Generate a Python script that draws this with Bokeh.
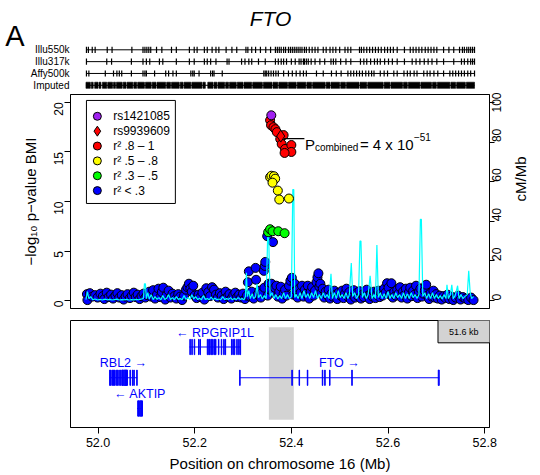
import math
from bokeh.plotting import figure
from bokeh.layouts import column
from bokeh.models import Range1d, LinearAxis, FixedTicker, NumeralTickFormatter
from bokeh.core.properties import value
from bokeh.embed import file_html
from bokeh.resources import INLINE

FONT = "Liberation Sans"

# ---------------- association results (-log10 p) ----------------
blue_pos = [
    51.977, 51.978, 51.983, 51.988, 51.994, 51.999, 52.005, 52.010, 52.013, 52.018,
    52.022, 52.027, 52.031, 52.036, 52.040, 52.044, 52.049, 52.053, 52.057, 52.061,
    52.066, 52.070, 52.074, 52.078, 52.082, 52.086, 52.090, 52.094, 52.098, 52.102,
    52.106, 52.110, 52.114, 52.118, 52.122, 52.125, 52.129, 52.132, 52.135, 52.139,
    52.142, 52.146, 52.150, 52.154, 52.158, 52.162, 52.166, 52.170, 52.174, 52.178,
    52.182, 52.185, 52.188, 52.191, 52.194, 52.197, 52.200, 52.204, 52.208, 52.212,
    52.216, 52.220, 52.224, 52.228, 52.232, 52.236, 52.240, 52.244, 52.248, 52.252,
    52.256, 52.260, 52.264, 52.268, 52.272, 52.276, 52.280, 52.284, 52.288, 52.292,
    52.296, 52.300, 52.304, 52.308, 52.310, 52.312, 52.315, 52.318, 52.322, 52.326,
    52.327, 52.330, 52.334, 52.337, 52.340, 52.343, 52.344, 52.345, 52.346, 52.350,
    52.351, 52.353, 52.356, 52.359, 52.362, 52.363, 52.366, 52.369, 52.372, 52.375,
    52.378, 52.381, 52.384, 52.387, 52.390, 52.395,
    52.398, 52.401, 52.404, 52.407, 52.410, 52.413, 52.416, 52.419, 52.422, 52.425,
    52.428, 52.431, 52.434, 52.437, 52.440, 52.443, 52.446, 52.449, 52.452, 52.454,
    52.456, 52.458, 52.460, 52.462, 52.465, 52.468, 52.471, 52.474, 52.477, 52.480,
    52.483, 52.486, 52.489, 52.492, 52.495, 52.498,
    52.502, 52.505, 52.508, 52.511, 52.514, 52.517, 52.520, 52.523, 52.526, 52.529,
    52.532, 52.535, 52.538, 52.541, 52.544, 52.547, 52.550, 52.553, 52.556, 52.559,
    52.562, 52.565, 52.568, 52.571, 52.574, 52.577, 52.580, 52.583, 52.586, 52.589,
    52.592, 52.595, 52.598, 52.601, 52.604, 52.607, 52.610, 52.613, 52.616,
    52.619, 52.622, 52.625, 52.628, 52.631, 52.634, 52.637, 52.640, 52.643, 52.646,
    52.649, 52.652, 52.655, 52.658, 52.661, 52.664, 52.667, 52.670, 52.673, 52.676,
    52.679, 52.682, 52.685, 52.688, 52.691, 52.694, 52.697, 52.700, 52.703, 52.707,
    52.711, 52.715, 52.719, 52.723, 52.727, 52.731, 52.735, 52.740, 52.745, 52.750,
    52.755, 52.760, 52.766, 52.772, 52.777,
]
blue_logp = [
    0.65, 0.05, 0.75, 0.4, 0.55, 0.3, 0.7, 0.45, 0.15, 0.8,
    0.35, 0.6, 0.2, 0.5, 0.75, 0.3, 0.55, 0.1, 0.4, 0.65,
    0.25, 0.5, 0.8, 0.35, 0.6, 0.15, 0.45, 0.7, 0.3, 0.55,
    0.9, 0.4, 1.05, 0.2, 0.6, 1.2, 0.35, 0.85, 1.3, 0.1,
    0.55, 1.0, 0.3, 0.7, 0.45, 0.2, 0.65, 0.4, 0.05, 0.5,
    1.1, 1.35, 1.7, 1.2, 0.9, 1.5, 0.5, 0.25, 0.6, 0.35,
    0.8, 0.1, 1.25, 0.85, 0.45, 1.35, 1.1, 0.6, 0.3, 0.75,
    0.5, 0.15, 0.9, 0.4, 0.65, 0.2, 0.55, 0.8, 0.35, 0.6,
    0.3, 0.7, 0.15, 0.5, 1.85, 2.95, 0.4, 0.9, 0.2, 3.3,
    2.1, 0.6, 1.0, 0.3, 0.8, 3.0, 1.3, 3.5, 3.9, 6.5,
    0.5, 1.7, 1.1, 1.7, 5.9, 0.8, 1.3, 1.5, 0.4, 0.9,
    1.4, 0.2, 0.7, 1.1, 0.5, 1.5,
    2.0, 2.3, 0.6, 1.7, 1.0, 0.3, 1.2, 0.8, 1.5, 0.4,
    1.1, 0.7, 1.5, 0.2, 0.9, 1.35, 0.5, 1.0, 1.85, 2.35,
    2.75, 1.4, 1.7, 0.8, 1.2, 0.3, 0.9, 0.55, 1.1, 0.2,
    0.7, 0.4, 1.0, 0.6, 0.15, 0.8,
    0.5, 1.0, 0.25, 0.7, 1.2, 0.4, 0.85, 0.1, 0.6, 1.05,
    0.3, 0.75, 0.45, 0.95, 0.2, 0.6, 0.35, 0.8, 1.1, 0.5,
    0.15, 0.7, 0.4, 0.9, 0.25, 0.6, 1.0, 0.35, 0.75, 0.5,
    1.2, 0.8, 1.75, 1.3, 0.6, 1.75, 0.3, 0.9, 0.5,
    1.1, 0.7, 1.35, 0.3, 0.9, 0.55, 1.2, 0.2, 0.8, 1.3,
    0.45, 1.0, 0.6, 1.5, 0.25, 0.9, 1.2, 0.4, 0.7, 1.0,
    1.6, 0.5, 0.15, 0.75, 0.4, 1.0, 0.3, 0.65, 0.2, 0.5,
    0.1, 0.45, 0.25, 0.6, 0.15, 0.4, 0.05, 0.3, 0.5, 0.1,
    0.35, 0.2, 0.05, 0.3, 0.05,
]
green_pos = [52.352, 52.356, 52.361, 52.373, 52.386]
green_logp = [6.9, 7.2, 7.0, 7.0, 6.8]
yellow_pos = [52.356, 52.3587, 52.364, 52.3665, 52.361, 52.372, 52.375, 52.395]
yellow_logp = [12.45, 12.6, 12.55, 12.3, 11.9, 11.1, 10.2, 10.3]
red_pos = [52.356, 52.358, 52.363, 52.367, 52.370, 52.377, 52.384, 52.380, 52.387, 52.400, 52.400, 52.386]
red_logp = [18.2, 17.7, 17.5, 17.3, 17.0, 16.3, 16.7, 15.8, 15.3, 15.7, 15.0, 14.9]
lead_pos = [52.3585]      # rs1421085
lead_logp = [18.7]
diamond_pos = [52.378]    # rs9939609
diamond_logp = [16.6]

# ---------------- recombination rate (cM/Mb) ----------------
rec_pos = [
    51.975, 51.978, 51.981, 51.985, 51.989, 51.994, 51.999, 52.004, 52.009, 52.014,
    52.019, 52.024, 52.029, 52.034, 52.039, 52.044, 52.049, 52.054, 52.059, 52.064,
    52.069, 52.074, 52.079, 52.084, 52.089, 52.094, 52.096, 52.098, 52.100, 52.103,
    52.106, 52.110, 52.114, 52.118, 52.122, 52.126, 52.130, 52.134, 52.138, 52.142,
    52.146, 52.150, 52.154, 52.158, 52.162, 52.166, 52.170, 52.174, 52.178, 52.182,
    52.186, 52.190, 52.194, 52.198, 52.202, 52.206, 52.210, 52.214, 52.218, 52.222,
    52.226, 52.230, 52.234, 52.238, 52.242, 52.246, 52.250, 52.254, 52.258, 52.262,
    52.266, 52.270, 52.274, 52.278, 52.282, 52.286, 52.290, 52.294, 52.298, 52.302,
    52.305, 52.307, 52.309, 52.312, 52.315, 52.319, 52.322, 52.326, 52.329, 52.332,
    52.336, 52.340, 52.344, 52.348, 52.351, 52.353, 52.356, 52.360, 52.364, 52.368,
    52.372, 52.376, 52.380, 52.384, 52.388, 52.392, 52.396, 52.400, 52.403, 52.405,
    52.407, 52.410, 52.414, 52.418, 52.422, 52.426, 52.430, 52.434, 52.438, 52.442,
    52.446, 52.450, 52.454, 52.458, 52.462, 52.466, 52.470, 52.474, 52.478, 52.482,
    52.485, 52.489, 52.493, 52.497, 52.501, 52.505, 52.509, 52.513, 52.517, 52.520,
    52.524, 52.527, 52.531, 52.535, 52.539, 52.542, 52.544, 52.547, 52.551, 52.555,
    52.559, 52.563, 52.567, 52.571, 52.574, 52.577, 52.580, 52.584, 52.588, 52.592,
    52.596, 52.600, 52.604, 52.608, 52.612, 52.616, 52.620, 52.624, 52.628, 52.632,
    52.636, 52.640, 52.644, 52.648, 52.652, 52.656, 52.660, 52.664, 52.667, 52.669,
    52.672, 52.676, 52.680, 52.684, 52.688, 52.692, 52.696, 52.700, 52.704, 52.708,
    52.712, 52.716, 52.720, 52.722, 52.725, 52.729, 52.732, 52.735, 52.739, 52.744,
    52.747, 52.751, 52.755, 52.759, 52.764, 52.767, 52.770, 52.773, 52.777,
]
rec_rate = [
    0.5, 4.5, 1.0, 2.0, 0.5, 0.8, 0.3, 0.6, 0.3, 0.7,
    0.4, 0.6, 0.3, 0.5, 0.7, 0.3, 0.5, 0.4, 0.6, 0.3,
    0.5, 0.4, 0.6, 0.4, 0.7, 1.2, 8.5, 8.5, 1.0, 4.0,
    0.8, 3.0, 0.5, 2.0, 0.6, 1.5, 0.4, 2.5, 0.5, 1.2,
    3.0, 0.5, 1.5, 0.4, 2.0, 0.6, 1.0, 0.4, 2.5, 0.6,
    1.5, 0.5, 3.0, 0.8, 2.0, 0.5, 1.2, 0.4, 2.5, 0.6,
    1.0, 0.4, 1.8, 0.5, 1.2, 0.4, 0.8, 0.4, 2.0, 0.5,
    1.0, 0.6, 1.5, 0.4, 1.0, 0.5, 1.5, 0.6, 1.0, 0.4,
    2.0, 14.0, 2.0, 5.0, 1.0, 3.5, 1.0, 2.0, 8.5, 1.5,
    3.0, 0.8, 2.5, 1.0, 33.0, 33.0, 2.0, 4.0, 1.0, 3.0,
    0.8, 2.5, 1.0, 4.0, 1.0, 3.0, 1.0, 2.0, 56.0, 56.0,
    1.5, 3.0, 1.0, 4.0, 1.0, 5.0, 1.5, 3.5, 1.0, 4.0,
    1.5, 5.0, 1.0, 3.0, 1.0, 4.0, 1.5, 3.0, 1.0, 13.5,
    1.0, 4.0, 1.0, 5.0, 1.5, 3.0, 1.0, 4.0, 1.0, 3.0,
    19.0, 2.0, 4.0, 1.0, 3.0, 30.0, 30.0, 1.5, 4.0, 1.0,
    3.0, 12.5, 1.0, 3.0, 1.0, 28.0, 1.5, 4.0, 1.0, 3.5,
    1.0, 4.5, 1.0, 3.0, 1.0, 4.0, 1.5, 3.0, 1.0, 4.0,
    1.0, 3.5, 1.0, 4.0, 1.5, 3.0, 1.0, 3.0, 41.0, 41.0,
    2.0, 4.0, 1.0, 3.5, 1.0, 4.0, 1.0, 3.0, 1.0, 2.5,
    0.8, 3.0, 1.0, 8.0, 1.0, 3.0, 8.0, 1.0, 2.5, 7.5,
    1.0, 3.0, 1.0, 2.0, 3.0, 15.0, 4.0, 1.0, 2.0,
]

# ---------------- SNP coverage tracks ----------------
track_names = ["Illu550k", "Illu317k", "Affy500k", "Imputed"]
illu550k = [
    51.976, 51.980, 51.988, 51.994, 52.019, 52.029, 52.070, 52.093, 52.097, 52.101,
    52.105, 52.109, 52.121, 52.132, 52.152, 52.162, 52.189, 52.199, 52.205, 52.220,
    52.226, 52.236, 52.244, 52.250, 52.265, 52.277, 52.287, 52.306, 52.310, 52.318,
    52.326, 52.336, 52.347, 52.357, 52.367, 52.371, 52.375, 52.379, 52.384, 52.388,
    52.394, 52.398, 52.402, 52.406, 52.410, 52.414, 52.418, 52.422, 52.427, 52.431,
    52.437, 52.443, 52.449, 52.455, 52.466, 52.472, 52.480, 52.486, 52.492, 52.500,
    52.511, 52.517, 52.523, 52.541, 52.545, 52.550, 52.556, 52.562, 52.568, 52.574,
    52.580, 52.586, 52.593, 52.599, 52.605, 52.611, 52.619, 52.634, 52.646, 52.652,
    52.658, 52.664, 52.670, 52.677, 52.683, 52.689, 52.695, 52.701, 52.715, 52.726,
    52.736, 52.748, 52.754, 52.758, 52.763, 52.767, 52.771, 52.775, 52.779,
]
illu317k = [
    51.976, 52.018, 52.028, 52.069, 52.093, 52.100, 52.107, 52.127, 52.134, 52.162,
    52.189, 52.199, 52.220, 52.226, 52.233, 52.244, 52.267, 52.271, 52.297, 52.304,
    52.312, 52.318, 52.332, 52.346, 52.367, 52.373, 52.379, 52.384, 52.390, 52.400,
    52.408, 52.416, 52.420, 52.425, 52.427, 52.431, 52.435, 52.441, 52.449, 52.459,
    52.469, 52.482, 52.487, 52.492, 52.502, 52.513, 52.523, 52.543, 52.550, 52.556,
    52.564, 52.572, 52.578, 52.584, 52.593, 52.601, 52.609, 52.619, 52.634, 52.650,
    52.658, 52.666, 52.675, 52.683, 52.691, 52.701, 52.715, 52.736, 52.752, 52.758,
    52.765, 52.771, 52.775, 52.779,
]
affy500k = [
    51.976, 51.981, 52.015, 52.032, 52.039, 52.044, 52.049, 52.069, 52.093, 52.097,
    52.100, 52.117, 52.140, 52.146, 52.155, 52.162, 52.192, 52.196, 52.199, 52.209,
    52.233, 52.237, 52.240, 52.257, 52.343, 52.346, 52.349, 52.353, 52.358, 52.363,
    52.368, 52.373, 52.384, 52.394, 52.402, 52.410, 52.418, 52.425, 52.431, 52.452,
    52.466, 52.483, 52.493, 52.503, 52.517, 52.523, 52.529, 52.535, 52.541, 52.547,
    52.554, 52.560, 52.566, 52.571, 52.584, 52.592, 52.599, 52.612, 52.619, 52.633,
    52.640, 52.646, 52.654, 52.660, 52.674, 52.681, 52.687, 52.695, 52.703, 52.715,
    52.728, 52.734, 52.740, 52.746, 52.752, 52.758, 52.765, 52.771, 52.779,
]
imputed_start = [
    51.975, 51.986, 51.993, 52.002, 52.009, 52.020, 52.032, 52.038, 52.052, 52.060,
    52.074, 52.082, 52.098, 52.112, 52.122, 52.142, 52.152, 52.170, 52.178, 52.194,
    52.217, 52.227, 52.240, 52.248, 52.264, 52.272, 52.288, 52.302, 52.320, 52.342,
    52.362, 52.374, 52.394, 52.412, 52.432, 52.444, 52.472, 52.482, 52.502, 52.514,
    52.542, 52.558, 52.592, 52.606, 52.632, 52.642, 52.668, 52.692, 52.702, 52.730,
    52.742, 52.762,
]
imputed_end = [
    51.984, 51.990, 52.000, 52.006, 52.018, 52.030, 52.036, 52.050, 52.058, 52.072,
    52.080, 52.096, 52.110, 52.120, 52.140, 52.150, 52.168, 52.176, 52.192, 52.215,
    52.222, 52.238, 52.246, 52.262, 52.270, 52.286, 52.300, 52.318, 52.340, 52.360,
    52.372, 52.392, 52.410, 52.430, 52.442, 52.470, 52.480, 52.500, 52.512, 52.540,
    52.556, 52.590, 52.604, 52.630, 52.640, 52.666, 52.690, 52.700, 52.728, 52.740,
    52.760, 52.779,
]

# ---------------- genes ----------------
gene_names = ["RPGRIP1L", "RBL2", "AKTIP", "FTO"]
gene_start = [52.189, 52.024, 52.081, 52.293]
gene_end = [52.295, 52.081, 52.093, 52.706]
gene_strand = ["-", "+", "-", "+"]
gene_row = [1, 2, 3, 2]
gene_exons = [
    [(52.190, 52.191), (52.194, 52.195), (52.199, 52.200), (52.208, 52.209), (52.211, 52.212),
     (52.226, 52.227), (52.229, 52.230), (52.231, 52.232), (52.234, 52.235), (52.237, 52.238),
     (52.240, 52.241), (52.243, 52.244), (52.249, 52.250), (52.255, 52.256), (52.260, 52.261),
     (52.263, 52.264), (52.276, 52.277), (52.279, 52.280), (52.282, 52.283), (52.287, 52.288),
     (52.291, 52.292), (52.294, 52.295)],
    [(52.024, 52.025), (52.026, 52.027), (52.029, 52.030), (52.032, 52.033), (52.034, 52.035),
     (52.037, 52.038), (52.040, 52.041), (52.043, 52.044), (52.046, 52.047), (52.049, 52.053),
     (52.054, 52.061), (52.066, 52.067), (52.071, 52.072), (52.074, 52.075), (52.080, 52.081)],
    [(52.082, 52.086), (52.087, 52.092)],
    [(52.293, 52.294), (52.401, 52.402), (52.416, 52.417), (52.433, 52.434), (52.464, 52.465),
     (52.469, 52.470), (52.479, 52.480), (52.525, 52.526), (52.704, 52.706)],
]
highlight_start, highlight_end = 52.3535, 52.4051
window_label = "51.6 kb"

legend_labels = ["rs1421085", "rs9939609", "r\u00b2  .8 \u2013 1", "r\u00b2  .5 \u2013 .8",
                 "r\u00b2  .3 \u2013 .5", "r\u00b2  < .3"]
legend_colors = ["#A020F0", "#FF0000", "#FF0000", "#FFFF00", "#00FF00", "#0000FF"]
legend_markers = ["circle", "diamond", "circle", "circle", "circle", "circle"]

# ---------------- layout ----------------
X0, X1 = 51.943, 52.810
W = 540
LEFT, RIGHT = 70, 47
MBPX = (X1 - X0) / (W - LEFT - RIGHT)
xr = Range1d(X0, X1)


def bare_axis(ax, size, standoff):
    ax.axis_line_color = None
    ax.major_tick_line_color = None
    ax.minor_tick_line_color = None
    ax.major_tick_out = 0
    ax.major_tick_in = 0
    ax.minor_tick_out = 0
    ax.minor_tick_in = 0
    ax.major_label_text_font = FONT
    ax.major_label_text_font_size = size
    ax.major_label_text_color = "black"
    ax.major_label_standoff = standoff
    ax.major_label_orientation = "horizontal"


# ---- top: title + SNP coverage tracks (frame aligned with the panels below) ----
top = figure(width=W, height=92, title=None, x_range=xr, y_range=Range1d(3.609, -4.167),
             x_axis_location=None, y_axis_location="left",
             min_border_left=LEFT, min_border_right=RIGHT, min_border_top=0, min_border_bottom=0,
             outline_line_color=None, output_backend="svg", toolbar_location=None)
top.grid.visible = False
track_axis = top.yaxis[0]
track_axis.ticker = FixedTicker(ticks=[0, 1, 2, 3])
track_axis.major_label_overrides = {i: n for i, n in enumerate(track_names)}
bare_axis(track_axis, "10px", 1)
panel_axis = LinearAxis(ticker=FixedTicker(ticks=[-1.2]), major_label_overrides={-1.2: "A"})
bare_axis(panel_axis, "29px", 3)
top.add_layout(panel_axis, "left")

tick_h = 0.26
for i, posl in enumerate([illu550k, illu317k, affy500k]):
    top.segment(x0=[posl[0]], x1=[posl[-1]], y0=[i], y1=[i], line_color="black", line_width=1)
    top.segment(x0=posl, x1=posl, y0=[i - tick_h] * len(posl), y1=[i + tick_h] * len(posl),
                line_color="black", line_width=1.2)
top.segment(x0=[imputed_start[0]], x1=[imputed_end[-1]], y0=[3], y1=[3], line_color="black", line_width=1)
top.quad(left=imputed_start, right=imputed_end, top=[3 - tick_h] * len(imputed_start),
         bottom=[3 + tick_h] * len(imputed_start), fill_color="black", line_color="black", line_width=0.6)
top.text(x=[(X0 + X1) / 2], y=[-2.645], text=["FTO"], x_offset=-9.5,
         text_align="center", text_baseline="middle", text_font=value(FONT),
         text_font_size="21px", text_font_style="italic", text_color="black")

# ---- main association plot ----
main = figure(width=W, height=224, title=None, x_range=xr, y_range=Range1d(-0.8, 20.8),
              x_axis_location=None, min_border_left=LEFT, min_border_right=RIGHT,
              min_border_top=2, min_border_bottom=8,
              outline_line_color="black", outline_line_alpha=1,
              output_backend="svg", toolbar_location=None)
main.extra_y_ranges = {"rec": Range1d(-4, 104)}
main.grid.visible = False

PT = 9
main.scatter(blue_pos, blue_logp, marker="circle", size=PT, fill_color="#0000FF",
             line_color="black", line_width=1)
main.line(rec_pos, rec_rate, y_range_name="rec", line_color="#00FFFF", line_width=1.2)
main.scatter(green_pos, green_logp, marker="circle", size=PT, fill_color="#00FF00",
             line_color="black", line_width=1)
main.scatter(yellow_pos, yellow_logp, marker="circle", size=PT, fill_color="#FFFF00",
             line_color="black", line_width=1)
main.scatter(red_pos, red_logp, marker="circle", size=PT, fill_color="#FF0000",
             line_color="black", line_width=1)
main.scatter(diamond_pos, diamond_logp, marker="diamond", size=12, fill_color="#FF0000",
             line_color="black", line_width=1)
main.scatter(lead_pos, lead_logp, marker="circle", size=PT, fill_color="#A020F0",
             line_color="black", line_width=1)

# legend (drawn by hand, R style)
lg_left, lg_right, lg_top, lg_bottom = 51.976, 52.160, 20.2, 9.8
main.quad(left=[lg_left], right=[lg_right], top=[lg_top], bottom=[lg_bottom],
          fill_color="white", line_color="black", line_width=1)
lg_y = [18.6 - 1.5 * i for i in range(len(legend_labels))]
for mk, col, yy in zip(legend_markers, legend_colors, lg_y):
    main.scatter([lg_left + 11 * MBPX], [yy], marker=mk, size=(10 if mk == "diamond" else 8),
                 fill_color=col, line_color="black", line_width=1)
main.text(x=[lg_left + 27 * MBPX] * len(legend_labels), y=lg_y, text=legend_labels,
          text_align="left", text_baseline="middle", text_font=value(FONT),
          text_font_size="12px", text_color="black")

# combined p-value annotation
ann_y = 16.35
main.segment(x0=[52.385], x1=[52.427], y0=[ann_y], y1=[ann_y], line_color="black", line_width=1.2)
ann_x = 52.428
base_y = 15.8
main.text(x=[ann_x], y=[base_y], text=["P"], text_align="left", text_baseline="alphabetic",
          text_font=value(FONT), text_font_size="15px", text_color="black")
main.text(x=[ann_x], y=[base_y], text=["combined"], x_offset=10, y_offset=3,
          text_align="left", text_baseline="alphabetic",
          text_font=value(FONT), text_font_size="10px", text_color="black")
main.text(x=[ann_x], y=[base_y], text=["= 4 x 10"], x_offset=55,
          text_align="left", text_baseline="alphabetic",
          text_font=value(FONT), text_font_size="15px", text_color="black")
main.text(x=[ann_x], y=[base_y], text=["\u221251"], x_offset=109, y_offset=-7,
          text_align="left", text_baseline="alphabetic",
          text_font=value(FONT), text_font_size="10px", text_color="black")

ya = main.yaxis[0]
ya.ticker = FixedTicker(ticks=[0, 5, 10, 15, 20])
ya.axis_label = "\u2212log\u2081\u2080 p\u2212value BMI"
ra = LinearAxis(y_range_name="rec", ticker=FixedTicker(ticks=[0, 20, 40, 60, 80, 100]),
                axis_label="cM/Mb")
main.add_layout(ra, "right")
for ax, tout, lstand, astand in [(ya, 6, 6, 8), (ra, 5, 2, 12)]:
    ax.major_tick_in = 0
    ax.major_tick_out = tout
    ax.minor_tick_in = 0
    ax.minor_tick_out = 0
    ax.axis_line_color = "black"
    ax.major_tick_line_color = "black"
    ax.major_label_text_font = FONT
    ax.major_label_text_font_size = "12px"
    ax.major_label_text_color = "black"
    ax.major_label_orientation = math.pi / 2
    ax.major_label_standoff = lstand
    ax.axis_label_text_font = FONT
    ax.axis_label_text_font_size = "15px"
    ax.axis_label_text_font_style = "normal"
    ax.axis_label_text_color = "black"
    ax.axis_label_standoff = astand
try:
    ra.axis_label_orientation = math.pi / 2
except Exception:
    pass

# ---- gene panel ----
gene = figure(width=W, height=159, title=None, x_range=xr, y_range=Range1d(3.618, 0.138),
              y_axis_location=None, min_border_left=LEFT, min_border_right=RIGHT,
              min_border_top=4, min_border_bottom=48,
              outline_line_color="black", outline_line_alpha=1,
              output_backend="svg", toolbar_location=None)
gene.grid.visible = False
gene.quad(left=[highlight_start], right=[highlight_end], top=[0.356], bottom=[3.367],
          fill_color="#D3D3D3", line_color=None)
ex_h = 0.25
for name, s, e, strand, row, exons in zip(gene_names, gene_start, gene_end, gene_strand,
                                          gene_row, gene_exons):
    gene.segment(x0=[s], x1=[e], y0=[row], y1=[row], line_color="#0000FF", line_width=1.2)
    gene.quad(left=[a for a, b in exons], right=[b for a, b in exons],
              top=[row - ex_h] * len(exons), bottom=[row + ex_h] * len(exons),
              fill_color="#0000FF", line_color="#0000FF", line_width=1)
    lab = ("\u2190 " + name) if strand == "-" else (name + " \u2192")
    gene.text(x=[(s + e) / 2], y=[row - 0.47], text=[lab], text_align="center",
              text_baseline="middle", text_font=value(FONT), text_font_size="12.5px",
              text_color="#0000FF")
kb_left = X1 - 52 * MBPX
gene.quad(left=[kb_left], right=[X1 + 0.01], top=[0.05], bottom=[0.864],
          fill_color="#D3D3D3", line_color="black", line_width=1)
gene.text(x=[(kb_left + X1) / 2], y=[0.50], text=[window_label], text_align="center",
          text_baseline="middle", text_font=value(FONT), text_font_size="9px",
          text_color="black")

xa = gene.xaxis[0]
xa.ticker = FixedTicker(ticks=[52.0, 52.2, 52.4, 52.6, 52.8])
xa.formatter = NumeralTickFormatter(format="0.0")
xa.axis_label = "Position on chromosome 16 (Mb)"
xa.major_tick_in = 0
xa.major_tick_out = 6
xa.minor_tick_in = 0
xa.minor_tick_out = 0
xa.axis_line_color = "black"
xa.major_label_text_font = FONT
xa.major_label_text_font_size = "12.5px"
xa.major_label_text_color = "black"
xa.major_label_standoff = 4
xa.axis_label_text_font = FONT
xa.axis_label_text_font_size = "15px"
xa.axis_label_text_font_style = "normal"
xa.axis_label_text_color = "black"
xa.axis_label_standoff = 5

layout = column(top, main, gene)
open("out.html", "w").write(file_html(layout, INLINE))
